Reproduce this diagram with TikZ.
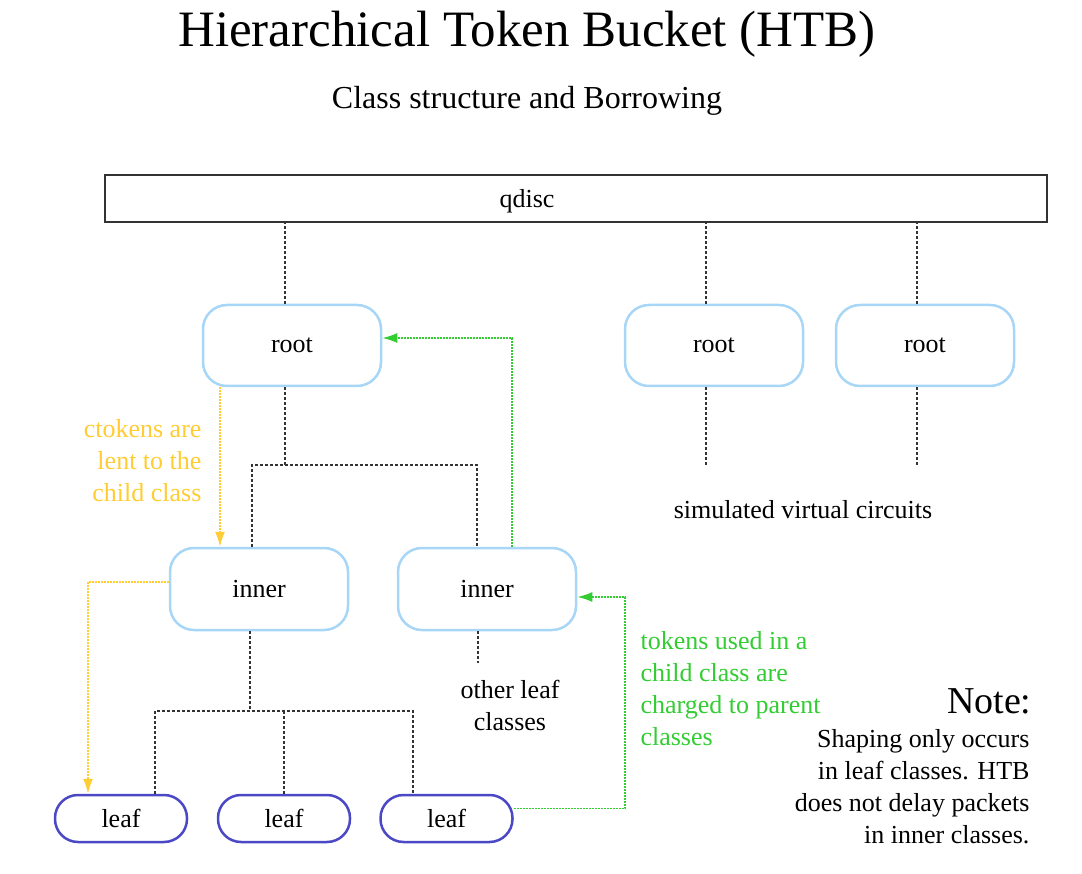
\documentclass[tikz,border=0pt]{standalone}
\usepackage{fontspec}
\setmainfont{Liberation Serif}
\usetikzlibrary{arrows.meta}
\definecolor{boxblue}{HTML}{A8D6F6}
\definecolor{leafblue}{HTML}{4A48C4}
\definecolor{lendyellow}{HTML}{FFCC33}
\definecolor{chargegreen}{HTML}{33CC33}
\definecolor{treegray}{HTML}{333333}
\tikzset{
  body/.style={font=\fontsize{26}{32}\selectfont},
  classbox/.style={draw=boxblue, line width=2.5pt, rounded corners=24pt, minimum width=178pt, minimum height=81pt, body, text depth=0pt},
  leafbox/.style={draw=leafblue, line width=2.5pt, rounded corners=23pt, minimum width=132pt, minimum height=47pt, body},
  tree/.style={treegray, line width=2.5pt, dash pattern=on 2.5pt off 2.5pt},
  lend/.style={lendyellow, line width=1.8pt, dash pattern=on 2pt off 1pt, -{Latex[length=15pt,width=10pt]}},
  charge/.style={chargegreen, line width=1.8pt, dash pattern=on 2pt off 1pt, -{Latex[length=15pt,width=10pt]}},
}
\begin{document}
\begin{tikzpicture}[x=1pt, y=-1pt]
\useasboundingbox (0,0) rectangle (1082,874);
% titles
\node (title) at (527,34) {\fontsize{51}{60}\selectfont Hierarchical Token Bucket (HTB)};
\node (subtitle) at (527,101) {\fontsize{32}{38}\selectfont Class structure and Borrowing};
% qdisc
\node[draw=treegray, line width=2pt, minimum width=942pt, minimum height=47pt,
      label={[body, xshift=-49pt, yshift=-3pt]center:qdisc}] (qdisc) at (576,198.5) {};
% roots
\node[classbox] (root1) at (292,345.5) {root};
\node[classbox] (root2) at (714,345.5) {root};
\node[classbox] (root3) at (925,345.5) {root};
% inners
\node[classbox, minimum height=82pt] (inner1) at (259,589) {inner};
\node[classbox, minimum height=82pt] (inner2) at (487,589) {inner};
% leaves
\node[leafbox] (leaf1) at (121,818.5) {leaf};
\node[leafbox] (leaf2) at (284,818.5) {leaf};
\node[leafbox] (leaf3) at (446.5,818.5) {leaf};
% coordinates
\coordinate (rj) at (285,465);
\coordinate (v2) at (706,465);
\coordinate (v3) at (917,465);
\coordinate (ij) at (250,711);
\coordinate (ol) at (478,663);
\coordinate (gx) at (625,597);
\coordinate (yx) at (88,582);
% tree lines
\draw[tree] ([xshift=-7pt]root1.north) -- ([xshift=-7pt]root1.north |- qdisc.south);
\draw[tree] ([xshift=-8pt]root2.north) -- ([xshift=-8pt]root2.north |- qdisc.south);
\draw[tree] ([xshift=-8pt]root3.north) -- ([xshift=-8pt]root3.north |- qdisc.south);
\draw[tree] ([xshift=-8pt]root2.south) -- (v2);
\draw[tree] ([xshift=-8pt]root3.south) -- (v3);
\draw[tree] ([xshift=-7pt]root1.south) -- (rj);
\draw[tree] ([xshift=-7pt]inner1.north) |- (rj) -| ([xshift=-10pt]inner2.north);
\draw[tree] ([xshift=-9pt]inner1.south) -- (ij);
\draw[tree] ([xshift=34pt]leaf1.north) |- (ij) -| ([xshift=-33.5pt]leaf3.north);
\draw[tree] (leaf2.north) -- (leaf2.north |- ij);
\draw[tree] ([xshift=-9pt]inner2.south) -- (ol);
% borrowing arrows
\draw[lend] ([xshift=-72pt]root1.south) -- ([xshift=-72pt]root1.south |- inner1.north);
\draw[lend] ([yshift=7pt]inner1.west) -- (yx) -- ([xshift=-33pt]leaf1.north);
\draw[charge] ([xshift=25pt]inner2.north) |- ([yshift=7.5pt]root1.east);
\draw[charge] ([yshift=10pt]leaf3.east) -| (gx) -- ([yshift=-8pt]inner2.east);
% labels
\node[body, text=lendyellow, anchor=east, align=right] (lendlbl) at (205,461) {ctokens are\\lent to the\\child class};
\node[body, text=chargegreen, anchor=west, align=left] (chargelbl) at (637,689) {tokens used in a\\child class are\\charged to parent\\classes};
\node[body, align=center] (otherlbl) at (510,705) {other leaf\\classes};
\node[body] (simlbl) at (803,510) {simulated virtual circuits};
\node[anchor=east] (notehead) at (1035,701) {\fontsize{38}{44}\selectfont Note:};
\node[body, anchor=east, align=right] (notebody) at (1033,787) {Shaping only occurs\\in leaf classes. HTB\\does not delay packets\\in inner classes.};
\end{tikzpicture}
\end{document}
